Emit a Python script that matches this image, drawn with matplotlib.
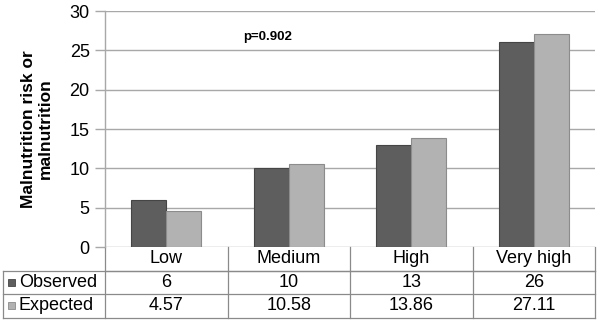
import matplotlib.pyplot as plt
import matplotlib.transforms as mtransforms
from matplotlib.patches import Rectangle

# data
categories = ["Low", "Medium", "High", "Very high"]
observed = [6, 10, 13, 26]
expected = [4.57, 10.58, 13.86, 27.11]
observed_labels = ["6", "10", "13", "26"]
expected_labels = ["4.57", "10.58", "13.86", "27.11"]
yticks = [0, 5, 10, 15, 20, 25, 30]

plt.rcParams["font.family"] = ["Liberation Sans", "DejaVu Sans"]

fig = plt.figure(figsize=(6, 3.24), dpi=100)
ax = fig.add_axes([105 / 600, 1 - 247 / 324, 490 / 600, 236 / 324])

obs_color = "#5e5e5e"
exp_color = "#b2b2b2"
grid_color = "#a8a8a8"
fs = 13
w = 0.286
x = list(range(len(categories)))

ax.bar([i - w / 2 for i in x], observed, width=w, color=obs_color,
       edgecolor="#454545", linewidth=0.8, zorder=3)
ax.bar([i + w / 2 for i in x], expected, width=w, color=exp_color,
       edgecolor="#8c8c8c", linewidth=0.8, zorder=3)

ax.set_xlim(-0.5, 3.5)
ax.set_ylim(0, 30)
ax.set_yticks(yticks)
ax.set_yticklabels([str(t) for t in yticks], fontsize=fs)
ax.set_xticks([])
ax.yaxis.grid(True, color=grid_color, linewidth=1.0, zorder=0)
ax.tick_params(axis="y", length=7, color=grid_color, width=1.0, pad=4)
for s in ["top", "right", "bottom"]:
    ax.spines[s].set_visible(False)
ax.spines["left"].set_color(grid_color)
ax.spines["left"].set_linewidth(1.0)

ax.set_ylabel("Malnutrition risk or\nmalnutrition", fontsize=12.5,
              fontweight="bold", labelpad=12, linespacing=1.15)

ax.text(0.83, 26.7, "p=0.902", fontsize=9.5, fontweight="bold",
        ha="center", va="center")

# data table under the chart
trans = mtransforms.blended_transform_factory(ax.transData, ax.transAxes)
rh = 23.5 / 236
left = (3 - 105) / 122.5 - 0.5
line_kw = dict(color="#8a8a8a", linewidth=0.9, transform=trans, clip_on=False)

# horizontal lines
ax.plot([-0.5, 3.5], [-rh, -rh], **line_kw)
ax.plot([left, 3.5], [-rh, -rh], **line_kw)
ax.plot([left, 3.5], [-2 * rh, -2 * rh], **line_kw)
ax.plot([left, 3.5], [-3 * rh, -3 * rh], **line_kw)
# vertical lines
ax.plot([-0.5, -0.5], [0, -3 * rh], **line_kw)
ax.plot([left, left], [-rh, -3 * rh], **line_kw)
for i in x:
    ax.plot([i + 0.5, i + 0.5], [0, -3 * rh], **line_kw)

for i, c in enumerate(categories):
    ax.text(i, -0.5 * rh, c, transform=trans, ha="center", va="center",
            fontsize=fs)
    ax.text(i, -1.5 * rh, observed_labels[i], transform=trans, ha="center",
            va="center", fontsize=fs)
    ax.text(i, -2.5 * rh, expected_labels[i], transform=trans, ha="center",
            va="center", fontsize=fs)

sq = 7 / 122.5
for row, (name, col, ec) in enumerate([("Observed", obs_color, "#454545"),
                                        ("Expected", exp_color, "#8c8c8c")]):
    yc = -(1.5 + row) * rh
    ax.add_patch(Rectangle((left + 5 / 122.5, yc - 3.5 / 236), sq, 7 / 236,
                           facecolor=col, edgecolor=ec, linewidth=0.6,
                           transform=trans, clip_on=False))
    ax.text(left + 16 / 122.5, yc, name, transform=trans, ha="left",
            va="center", fontsize=fs)

fig.savefig("out.png", dpi=100)
